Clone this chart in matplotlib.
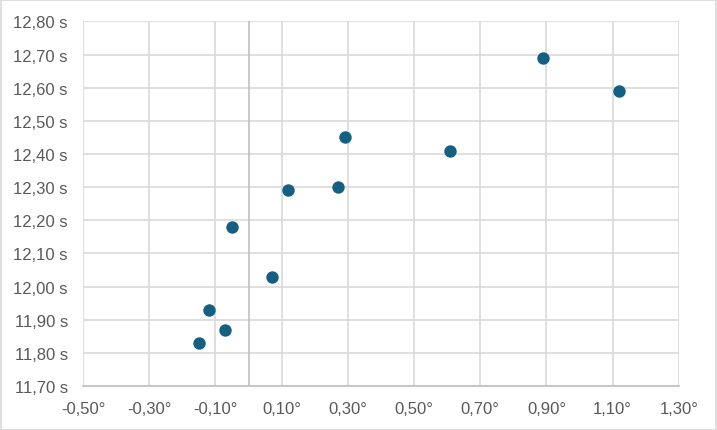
import numpy as np
import matplotlib.pyplot as plt
from matplotlib.ticker import FuncFormatter, FixedLocator, MultipleLocator
from matplotlib.patches import Rectangle

# Datos: desviación de ángulo (°) frente a tiempo (s)
angulo = [0.89, 1.12, 0.29, 0.61, 0.27, 0.12, -0.05, 0.07, -0.12, -0.07, -0.15]
tiempo = [12.69, 12.59, 12.45, 12.41, 12.30, 12.29, 12.18, 12.03, 11.93, 11.87, 11.83]

gris_texto = '#595959'
gris_rejilla = '#d9d9d9'

plt.rcParams['axes.unicode_minus'] = False

fig = plt.figure(figsize=(7.17, 4.31), dpi=100)
ax = fig.add_axes([0.1158, 0.102, 0.831, 0.846])

ax.scatter(angulo, tiempo, s=80, color='#156082', zorder=3, linewidths=0)

ax.set_xlim(-0.5, 1.3)
ax.set_ylim(11.70, 12.80)
ax.xaxis.set_major_locator(FixedLocator(np.arange(-0.5, 1.31, 0.2)))
ax.yaxis.set_major_locator(MultipleLocator(0.1))

ax.xaxis.set_major_formatter(FuncFormatter(lambda v, p: f"{v:.2f}°".replace('.', ',')))
ax.yaxis.set_major_formatter(FuncFormatter(lambda v, p: f"{v:.2f} s".replace('.', ',')))

ax.grid(True, color=gris_rejilla, linewidth=1.2, zorder=0)
ax.set_axisbelow(True)
ax.axvline(0, color='#bfbfbf', linewidth=1.2, zorder=1)

for lado in ['top', 'right', 'left']:
    ax.spines[lado].set_visible(False)
ax.spines['bottom'].set_color('#bfbfbf')
ax.spines['bottom'].set_linewidth(1.2)

ax.tick_params(length=0, labelsize=12, labelcolor=gris_texto)
ax.tick_params(axis='x', pad=11)
ax.tick_params(axis='y', pad=11)
for t in ax.get_xticklabels() + ax.get_yticklabels():
    t.set_fontfamily('Liberation Sans')

# borde exterior del gráfico
fig.patches.append(Rectangle((0.001, 0.001), 0.997, 0.997, transform=fig.transFigure,
                             fill=False, edgecolor=gris_rejilla, linewidth=1.2))

fig.savefig('out.png', dpi=100)
